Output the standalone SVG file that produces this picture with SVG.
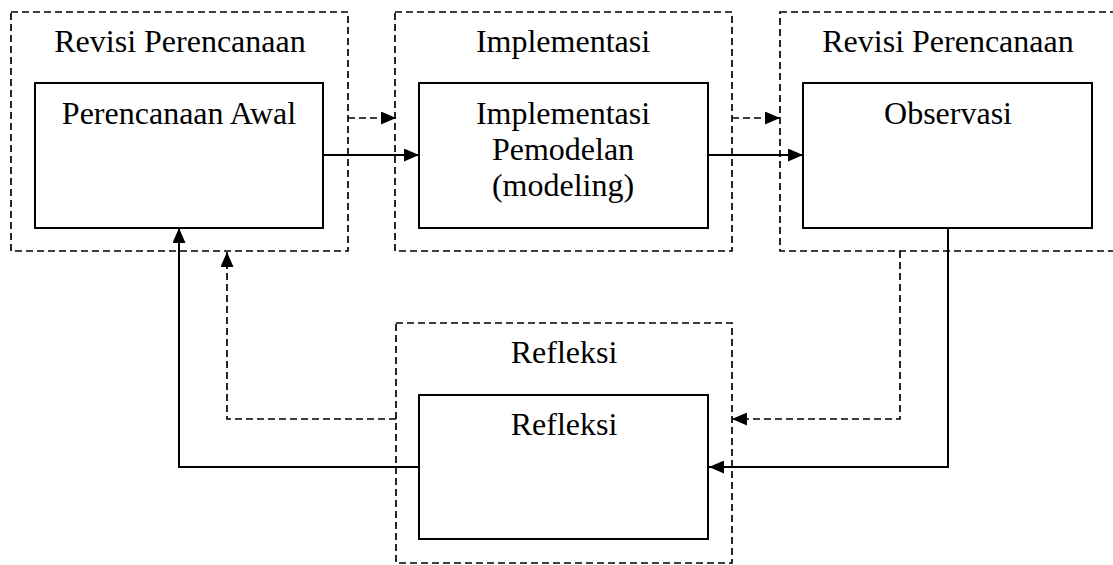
<svg xmlns="http://www.w3.org/2000/svg" width="1113" height="565" viewBox="0 0 1113 565">
<style>
.outer{fill:none;stroke:#000;stroke-width:1.7;stroke-dasharray:7 4}
.inner{fill:#fff;stroke:#000;stroke-width:2}
.t{font-family:'Liberation Serif','DejaVu Serif',serif;font-size:32px;fill:#000;text-anchor:middle}
.c{fill:none;stroke:#000;stroke-width:2}
.d{fill:none;stroke:#000;stroke-width:1.7;stroke-dasharray:7 4}
</style>
<defs>
<marker id="ah" markerUnits="userSpaceOnUse" markerWidth="15" markerHeight="13" refX="15" refY="6.5" orient="auto">
<path d="M0,0 L15,6.5 L0,13 z" fill="#000"/>
</marker>
</defs>
<rect width="1113" height="565" fill="#fff"/>
<g id="revisi1">
<rect class="outer" x="11" y="12" width="337" height="239"/>
<text class="t" x="180" y="52">Revisi Perencanaan</text>
</g>
<g id="perencanaan">
<rect class="inner" x="35" y="83" width="288" height="145"/>
<text class="t" x="179" y="124">Perencanaan Awal</text>
</g>
<g id="implementasi-group">
<rect class="outer" x="395" y="12" width="337" height="239"/>
<text class="t" x="563" y="52">Implementasi</text>
</g>
<g id="implementasi">
<rect class="inner" x="419" y="83" width="289" height="145"/>
<text class="t" x="563" y="124">Implementasi</text>
<text class="t" x="563" y="160">Pemodelan</text>
<text class="t" x="563" y="196">(modeling)</text>
</g>
<g id="revisi2">
<rect class="outer" x="780" y="12" width="345" height="239"/>
<text class="t" x="948" y="52">Revisi Perencanaan</text>
</g>
<g id="observasi">
<rect class="inner" x="803" y="83" width="289" height="145"/>
<text class="t" x="948" y="124">Observasi</text>
</g>
<g id="refleksi-group">
<rect class="outer" x="396" y="323" width="336" height="240"/>
<text class="t" x="564" y="363">Refleksi</text>
</g>
<g id="refleksi">
<rect class="inner" x="419" y="395" width="289" height="144"/>
<text class="t" x="564" y="435">Refleksi</text>
</g>
<g id="connectors">
<path class="d" d="M348,118 H396" marker-end="url(#ah)"/>
<path class="c" d="M323,155 H419" marker-end="url(#ah)"/>
<path class="d" d="M732,118 H780" marker-end="url(#ah)"/>
<path class="c" d="M708,155 H803" marker-end="url(#ah)"/>
<path class="c" d="M948,228 V467 H709" marker-end="url(#ah)"/>
<path class="d" d="M900,251 V419 H732" marker-end="url(#ah)"/>
<path class="c" d="M419,467 H179 V228" marker-end="url(#ah)"/>
<path class="d" d="M396,419 H227 V252" marker-end="url(#ah)"/>
</g>
</svg>
